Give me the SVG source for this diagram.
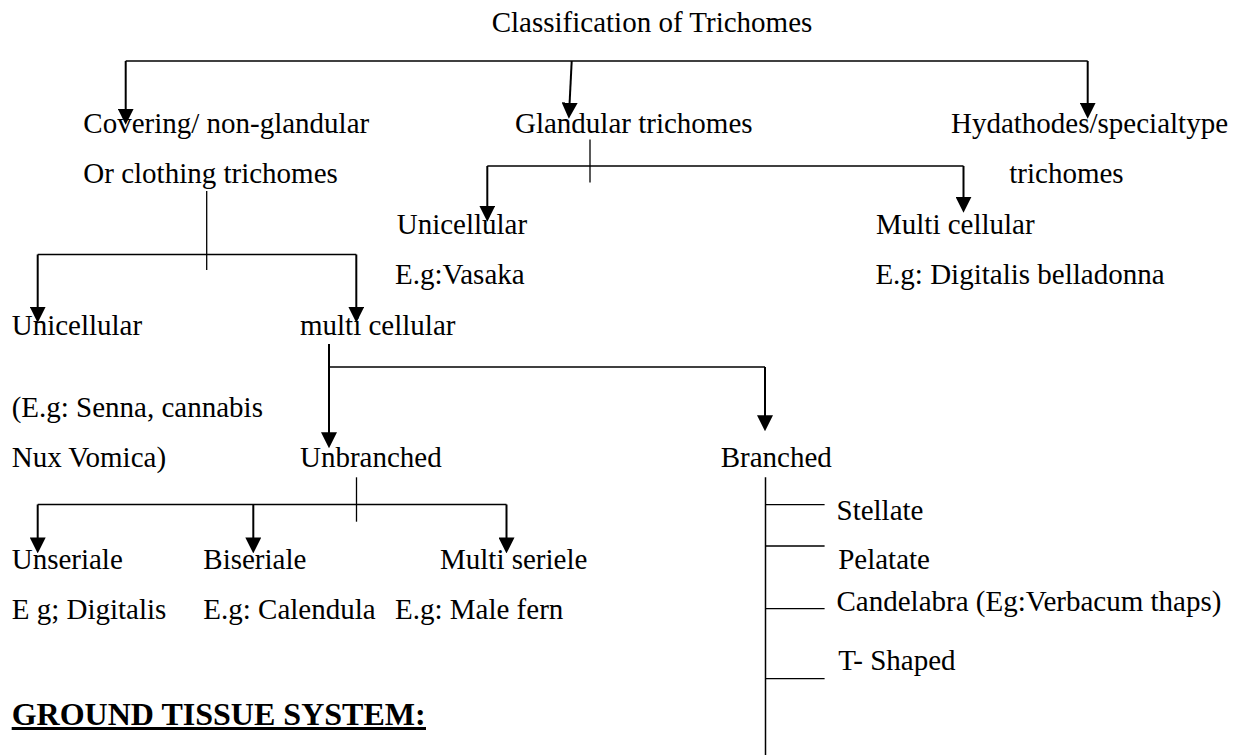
<svg xmlns="http://www.w3.org/2000/svg" width="1235" height="755" viewBox="0 0 1235 755">
  <style>
    text { font-family: "Liberation Serif", "Times New Roman", serif; font-size: 29px; fill: #000; }
    .bold { font-weight: bold; font-size: 32px; }
    .ln { stroke: #000; stroke-width: 1.5; fill: none; }
    .thin { stroke: #000; stroke-width: 1.3; fill: none; }
    .arr { stroke: #000; stroke-width: 2; fill: none; marker-end: url(#ah); }
  </style>
  <defs>
    <marker id="ah" markerUnits="userSpaceOnUse" markerWidth="16" markerHeight="16" viewBox="0 0 14 14" refX="2" refY="7" orient="auto">
      <path d="M0,0 L14,7 L0,14 z" fill="#000"/>
    </marker>
  </defs>
  <rect width="1235" height="755" fill="#fff"/>

  <g id="connectors">
    <!-- top level -->
    <path class="ln" d="M125.7,61 H1087.7"/>
    <path class="arr" d="M125.7,61 V111"/>
    <path class="arr" d="M571.7,61 L569.5,105"/>
    <path class="arr" d="M1087.7,61 V105"/>
    <!-- glandular -->
    <path class="thin" d="M590,139.5 V182.5"/>
    <path class="ln" d="M487.3,166 H963.5"/>
    <path class="arr" d="M487.3,166 V208"/>
    <path class="arr" d="M963.5,166 V199"/>
    <!-- covering -->
    <path class="thin" d="M206.7,191 V270"/>
    <path class="ln" d="M37.7,254.5 H356.3"/>
    <path class="arr" d="M37.7,254.5 V309"/>
    <path class="arr" d="M356.3,254.5 V309"/>
    <!-- multi cellular -->
    <path class="arr" d="M329,344 V434.5"/>
    <path class="ln" d="M329,367 H765"/>
    <path class="arr" d="M765,367 V417.5"/>
    <!-- unbranched -->
    <path class="thin" d="M356.5,477.3 V521.7"/>
    <path class="ln" d="M37.7,504.5 H506.5"/>
    <path class="arr" d="M37.7,504.5 V539.7"/>
    <path class="arr" d="M253.3,504.5 V539.7"/>
    <path class="arr" d="M506.5,504.5 V539.7"/>
    <!-- branched -->
    <path class="ln" d="M765.5,477.3 V755"/>
    <path class="thin" d="M765.5,504.7 H824.6 M765.5,546 H824.6 M765.5,608.7 H824.6 M765.5,678.7 H824.6"/>
  </g>

  <g id="title"><text x="491.7" y="31.5">Classification of Trichomes</text></g>
  <g id="covering">
    <text x="83.3" y="133">Covering/ non-glandular</text>
    <text x="83.3" y="183">Or clothing trichomes</text>
  </g>
  <g id="glandular"><text x="515" y="133">Glandular trichomes</text></g>
  <g id="hydathodes">
    <text x="951" y="133">Hydathodes/specialtype</text>
    <text x="1009.3" y="183">trichomes</text>
  </g>
  <g id="gland-unicellular">
    <text x="396.7" y="234">Unicellular</text>
    <text x="395" y="284">E.g:Vasaka</text>
  </g>
  <g id="gland-multicellular">
    <text x="876" y="234">Multi cellular</text>
    <text x="875.4" y="284">E.g: Digitalis belladonna</text>
  </g>
  <g id="cov-unicellular">
    <text x="11.7" y="335">Unicellular</text>
    <text x="11.7" y="417">(E.g: Senna, cannabis</text>
    <text x="11.7" y="467">Nux Vomica)</text>
  </g>
  <g id="cov-multicellular"><text x="300" y="335">multi cellular</text></g>
  <g id="unbranched"><text x="300" y="467">Unbranched</text></g>
  <g id="branched"><text x="720.7" y="467">Branched</text></g>
  <g id="unseriale">
    <text x="11.7" y="568.5">Unseriale</text>
    <text x="11.7" y="619">E g; Digitalis</text>
  </g>
  <g id="biseriale">
    <text x="203.3" y="568.5">Biseriale</text>
    <text x="203.3" y="619">E.g: Calendula</text>
  </g>
  <g id="multiseriele">
    <text x="440" y="568.5">Multi seriele</text>
    <text x="395" y="619">E.g: Male fern</text>
  </g>
  <g id="stellate"><text x="836.5" y="519.5">Stellate</text></g>
  <g id="pelatate"><text x="838.2" y="568.5">Pelatate</text></g>
  <g id="candelabra"><text x="836.5" y="611">Candelabra (Eg:Verbacum thaps)</text></g>
  <g id="tshaped"><text x="838.2" y="670">T- Shaped</text></g>
  <g id="ground-heading">
    <text class="bold" x="11.7" y="725" textLength="414" lengthAdjust="spacingAndGlyphs">GROUND TISSUE SYSTEM:</text>
    <line x1="11.7" y1="728.5" x2="426" y2="728.5" stroke="#000" stroke-width="3"/>
  </g>
</svg>
